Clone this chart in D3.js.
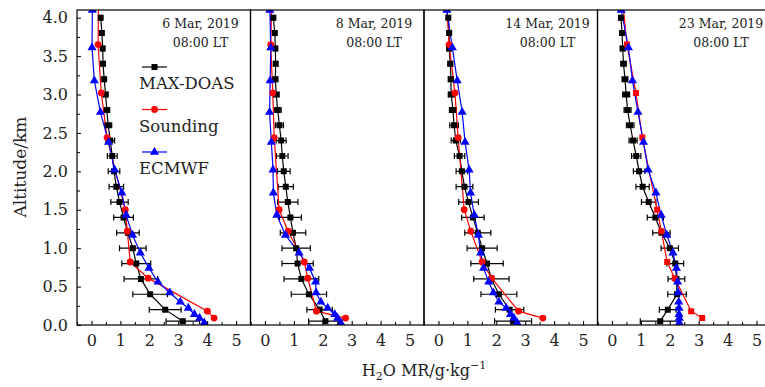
<!DOCTYPE html>
<html>
<head>
<meta charset="utf-8">
<script src="https://cdn.jsdelivr.net/npm/d3@7"></script>
<style>
  body { margin: 0; background: #fff; }
  text { font-family: "DejaVu Serif", "Liberation Serif", serif; fill: #222; }
</style>
</head>
<body>
<div id="chart"></div>
<script>
// dates shown in each panel
var dates = ["6 Mar, 2019", "8 Mar, 2019", "14 Mar, 2019", "23 Mar, 2019"];
var timeLabel = "08:00 LT";

// MAX-DOAS retrieval altitudes (km) and values per day (g/kg)
var doasAlt = [0.05, 0.2, 0.4, 0.6, 0.8, 1.0, 1.2, 1.4, 1.6, 1.8, 2.0, 2.2, 2.4, 2.6, 2.8, 3.0, 3.2, 3.4, 3.6, 3.8, 4.0];
var doas6 = [3.16, 2.55, 2.03, 1.71, 1.55, 1.43, 1.26, 1.11, 0.97, 0.86, 0.78, 0.72, 0.65, 0.58, 0.53, 0.49, 0.44, 0.40, 0.39, 0.36, 0.32];
var doas8 = [2.09, 1.89, 1.52, 1.26, 1.13, 1.08, 0.97, 0.88, 0.79, 0.72, 0.65, 0.60, 0.56, 0.50, 0.44, 0.39, 0.36, 0.37, 0.36, 0.34, 0.29];
var doas14 = [2.58, 2.46, 2.09, 1.83, 1.68, 1.51, 1.36, 1.19, 1.04, 0.90, 0.81, 0.73, 0.60, 0.54, 0.50, 0.44, 0.43, 0.41, 0.37, 0.37, 0.34];
var doas23 = [1.67, 1.93, 2.25, 2.23, 2.19, 2.00, 1.71, 1.50, 1.27, 1.06, 0.94, 0.84, 0.73, 0.63, 0.54, 0.49, 0.45, 0.40, 0.37, 0.35, 0.31];
// MAX-DOAS error (+/-)
var err6 = [0.58, 0.55, 0.60, 0.58, 0.50, 0.46, 0.39, 0.34, 0.30, 0.25, 0.20, 0.17, 0.15, 0.12, 0.10, 0.08, 0.06, 0.06, 0.05, 0.05, 0.04];
var err8 = [0.58, 0.44, 0.61, 0.60, 0.54, 0.49, 0.44, 0.38, 0.35, 0.26, 0.22, 0.20, 0.17, 0.14, 0.12, 0.10, 0.08, 0.07, 0.06, 0.06, 0.05];
var err14 = [0.64, 0.49, 0.62, 0.61, 0.56, 0.52, 0.45, 0.39, 0.34, 0.29, 0.20, 0.18, 0.16, 0.15, 0.12, 0.10, 0.09, 0.08, 0.07, 0.06, 0.05];
var err23 = [0.69, 0.29, 0.32, 0.29, 0.29, 0.30, 0.30, 0.28, 0.25, 0.23, 0.20, 0.16, 0.14, 0.13, 0.12, 0.12, 0.10, 0.09, 0.08, 0.07, 0.06];

// sounding
var sondeAlt = [0.09, 0.18, 0.61, 0.82, 1.22, 1.50, 2.44, 3.02, 3.65, 4.1];
var sonde6 = [4.24, 4.01, 1.96, 1.34, 1.24, 1.17, 0.54, 0.34, 0.23, 0.24];
var sonde8 = [2.79, 1.78, 1.48, 1.36, 0.80, 0.49, 0.32, 0.27, 0.20, 0.23];
var sonde14 = [3.61, 2.77, 1.84, 1.51, 1.12, 0.89, 0.68, 0.57, 0.37, 0.29];
var sonde23 = [3.12, 2.74, 2.17, 1.91, 1.71, 1.56, 1.05, 0.83, 0.52, 0.40];

// ECMWF model levels
var ecAlt = [0.03, 0.09, 0.14, 0.22, 0.30, 0.42, 0.56, 0.74, 0.94, 1.17, 1.43, 1.72, 2.02, 2.38, 2.77, 3.18, 3.61, 4.1];
var ec6 = [3.90, 3.74, 3.56, 3.35, 3.07, 2.71, 2.30, 1.99, 1.69, 1.42, 1.20, 1.05, 0.80, 0.59, 0.31, 0.10, 0.02, 0.03];
var ec8 = [2.62, 2.51, 2.41, 2.17, 1.93, 1.77, 1.75, 1.54, 1.18, 0.71, 0.41, 0.29, 0.28, 0.22, 0.16, 0.18, 0.20, 0.17];
var ec14 = [2.72, 2.61, 2.49, 2.34, 2.09, 1.90, 1.74, 1.56, 1.46, 1.38, 1.24, 1.11, 1.06, 0.92, 0.82, 0.65, 0.48, 0.29];
var ec23 = [2.33, 2.33, 2.32, 2.32, 2.31, 2.29, 2.27, 2.23, 2.11, 1.90, 1.70, 1.52, 1.25, 1.09, 0.90, 0.71, 0.57, 0.32];

var xTicks = [0, 1, 2, 3, 4, 5];
var yTicks = [0, 0.5, 1.0, 1.5, 2.0, 2.5, 3.0, 3.5, 4.0];
var legendNames = ["MAX-DOAS", "Sounding", "ECMWF"];

var doasSets = [doas6, doas8, doas14, doas23];
var errSets = [err6, err8, err14, err23];
var sondeSets = [sonde6, sonde8, sonde14, sonde23];
var ecSets = [ec6, ec8, ec14, ec23];

var W = 765, H = 387;
var plotTop = 10, plotBottom = 325, left0 = 77, panelW = 173.5;

var svg = d3.select("#chart").append("svg").attr("width", W).attr("height", H);

var y = d3.scaleLinear().domain([0, 4.1]).range([plotBottom, plotTop]);

// marker helpers
var sq = d3.symbol().type(d3.symbolSquare).size(36);
var tri = d3.symbol().type(d3.symbolTriangle).size(36);

function drawPanel(i) {
  var left = left0 + i * panelW;
  var x = d3.scaleLinear().domain([-0.5, 5.5]).range([left, left + panelW]);
  var g = svg.append("g");

  svg.append("clipPath").attr("id", "clip" + i)
    .append("rect").attr("x", left).attr("y", plotTop).attr("width", panelW).attr("height", plotBottom - plotTop);

  var data = g.append("g").attr("clip-path", "url(#clip" + i + ")");

  var doas = doasAlt.map(function (a, k) { return { a: a, v: doasSets[i][k], e: errSets[i][k] }; });
  var sonde = sondeAlt.map(function (a, k) { return { a: a, v: sondeSets[i][k] }; });
  var ec = ecAlt.map(function (a, k) { return { a: a, v: ecSets[i][k] }; });

  var lineFunc = d3.line()
    .x(function (d) { return x(d.v) })
    .y(function (d) { return y(d.a) });

  // error bars
  var eb = data.append("g").attr("stroke", "#000").attr("stroke-width", 1.2);
  doas.forEach(function (d) {
    var yy = y(d.a);
    eb.append("line").attr("x1", x(d.v - d.e)).attr("x2", x(d.v + d.e)).attr("y1", yy).attr("y2", yy);
    eb.append("line").attr("x1", x(d.v - d.e)).attr("x2", x(d.v - d.e)).attr("y1", yy - 3).attr("y2", yy + 3);
    eb.append("line").attr("x1", x(d.v + d.e)).attr("x2", x(d.v + d.e)).attr("y1", yy - 3).attr("y2", yy + 3);
  });

  data.append("path").attr("d", lineFunc(doas)).attr("stroke", "#000").attr("stroke-width", 1.2).attr("fill", "none");
  data.append("path").attr("d", lineFunc(sonde)).attr("stroke", "#ff0000").attr("stroke-width", 1.2).attr("fill", "none");
  data.append("path").attr("d", lineFunc(ec)).attr("stroke", "#0000ff").attr("stroke-width", 1.2).attr("fill", "none");

  data.selectAll(".sq").data(doas).enter().append("path")
    .attr("d", sq).attr("fill", "#000")
    .attr("transform", function (d) { return "translate(" + x(d.v) + "," + y(d.a) + ")"; });

  if (i == 3) {
    // last day sounding drawn with squares
    data.selectAll(".rs").data(sonde.slice(0, 9)).enter().append("path")
      .attr("d", sq).attr("fill", "#ff0000")
      .attr("transform", function (d) { return "translate(" + x(d.v) + "," + y(d.a) + ")"; });
  } else {
    data.selectAll(".rc").data(sonde.slice(0, 9)).enter().append("circle")
      .attr("r", 3.4).attr("fill", "#ff0000")
      .attr("cx", function (d) { return x(d.v) }).attr("cy", function (d) { return y(d.a) });
  }

  data.selectAll(".tr").data(ec).enter().append("path")
    .attr("d", tri).attr("fill", "#0000ff")
    .attr("transform", function (d) { return "translate(" + x(d.v) + "," + y(d.a) + ")"; });

  // bottom axis, ticks pointing in
  var xAxis = g.append("g").attr("transform", "translate(0," + plotBottom + ")")
    .call(d3.axisBottom(x).tickValues(xTicks).tickSizeInner(-4).tickSizeOuter(0).tickPadding(10).tickFormat(d3.format("d")));
  xAxis.select(".domain").remove();
  xAxis.selectAll("text").attr("font-size", 16).attr("font-family", "DejaVu Serif").attr("fill", "#222");
  xAxis.selectAll("line").attr("stroke-width", 1.1);
  g.append("g").attr("transform", "translate(0," + plotBottom + ")")
    .call(d3.axisBottom(x).tickValues(d3.range(-0.5, 5.6, 1)).tickSize(-3).tickFormat(""))
    .call(function (s) { s.select(".domain").remove(); });

  if (i == 0) {
    var yAxis = g.append("g").attr("transform", "translate(" + left + ",0)")
      .call(d3.axisLeft(y).tickValues(yTicks).tickSizeInner(-4).tickSizeOuter(0).tickPadding(9).tickFormat(d3.format(".1f")));
    yAxis.select(".domain").remove();
    yAxis.selectAll("text").attr("font-size", 16).attr("font-family", "DejaVu Serif").attr("fill", "#222");
    g.append("g").attr("transform", "translate(" + left + ",0)")
      .call(d3.axisLeft(y).tickValues(d3.range(0.25, 4.1, 0.5)).tickSize(-3).tickFormat(""))
      .call(function (s) { s.select(".domain").remove(); });

    // legend
    var leg = g.append("g");
    var cols = ["#000", "#ff0000", "#0000ff"];
    legendNames.forEach(function (n, k) {
      var ly = 67 + k * 42.5;
      leg.append("line").attr("x1", 142).attr("x2", 167).attr("y1", ly).attr("y2", ly)
        .attr("stroke", cols[k]).attr("stroke-width", 1.2);
      if (k == 0) leg.append("path").attr("d", sq).attr("fill", cols[k]).attr("transform", "translate(154.5," + ly + ")");
      if (k == 1) leg.append("circle").attr("r", 3.4).attr("fill", cols[k]).attr("cx", 154.5).attr("cy", ly);
      if (k == 2) leg.append("path").attr("d", tri).attr("fill", cols[k]).attr("transform", "translate(154.5," + ly + ")");
      leg.append("text").attr("x", 139).attr("y", ly + 22).attr("font-size", 16.5).text(n);
    });
  }

  // panel frame
  g.append("rect").attr("x", left).attr("y", plotTop).attr("width", panelW).attr("height", plotBottom - plotTop)
    .attr("fill", "none").attr("stroke", "#000").attr("stroke-width", 1.2);

  // date label
  g.append("text").attr("x", left + panelW - 50).attr("y", 28).attr("text-anchor", "middle")
    .attr("font-size", 12.5).text(dates[i]);
  g.append("text").attr("x", left + panelW - 50).attr("y", 47).attr("text-anchor", "middle")
    .attr("font-size", 12.5).text(timeLabel);
}

for (var i = 0; i < 4; i++) {
  drawPanel(i);
}

// axis titles
svg.append("text").attr("transform", "translate(26,167) rotate(-90)").attr("text-anchor", "middle")
  .attr("font-size", 17).text("Altitude/km");

var xt = svg.append("text").attr("x", 424).attr("y", 376).attr("text-anchor", "middle").attr("font-size", 16);
xt.append("tspan").text("H");
xt.append("tspan").attr("font-size", 11).attr("dy", 4).text("2");
xt.append("tspan").attr("dy", -4).text("O MR/g\u00b7kg");
xt.append("tspan").attr("font-size", 11).attr("dy", -7).text("\u22121");
</script>
</body>
</html>
